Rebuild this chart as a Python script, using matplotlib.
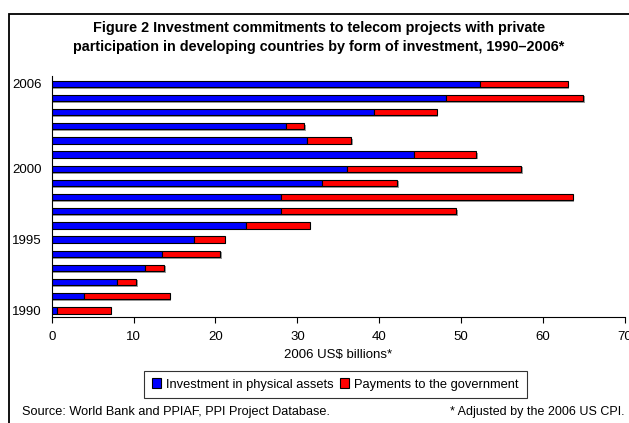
import matplotlib
matplotlib.use("Agg")
import matplotlib.pyplot as plt
import matplotlib.patheffects as pe
from matplotlib.patches import Rectangle, Patch

plt.rcParams["font.family"] = ["Liberation Sans", "DejaVu Sans"]

# Data (US$ billions, 2006 prices)
years = list(range(1990, 2007))
physical = [0.7, 3.9, 8.0, 11.4, 13.5, 17.4, 23.7, 28.0, 28.0, 33.0,
            36.1, 44.2, 31.2, 28.6, 39.4, 48.1, 52.3]
totals = [7.2, 14.4, 10.3, 13.7, 20.6, 21.1, 31.5, 49.4, 63.6, 42.2,
          57.3, 51.8, 36.6, 30.8, 47.0, 64.9, 63.0]
payments = [t - p for t, p in zip(totals, physical)]
ytick_years = [1990, 1995, 2000, 2006]

fig = plt.figure(figsize=(6.29, 4.23), dpi=100)
ax = fig.add_axes([0.0822, 0.2513, 0.9114, 0.569])

shadow = [pe.SimplePatchShadow(offset=(1.2, -1.2), shadow_rgbFace="0.45", alpha=0.7), pe.Normal()]
b1 = ax.barh(years, physical, height=0.45, color="#0000FF", edgecolor="black", linewidth=0.8,
             label="Investment in physical assets")
b2 = ax.barh(years, payments, left=physical, height=0.45, color="#FF0000", edgecolor="black",
             linewidth=0.8, label="Payments to the government")
for bar in list(b1) + list(b2):
    bar.set_path_effects(shadow)

ax.set_xlim(0, 70)
ax.set_ylim(1989.55, 2006.55)
ax.set_xticks(range(0, 71, 10))
ax.set_yticks(ytick_years)
ax.tick_params(axis="y", length=0, pad=7, labelsize=9.5)
ax.tick_params(axis="x", length=4, direction="out", labelsize=9.5, pad=6)
for s in ["top", "right"]:
    ax.spines[s].set_visible(False)
ax.spines["left"].set_linewidth(0.8)
ax.spines["bottom"].set_linewidth(0.8)
ax.set_xlabel("2006 US$ billions*", fontsize=9.5, labelpad=4.5)

fig.text(0.507, 0.911, "Figure 2 Investment commitments to telecom projects with private\n"
         "participation in developing countries by form of investment, 1990\u20132006*",
         ha="center", va="center", fontsize=10.4, fontweight="bold", linespacing=1.4)

handles = [Patch(facecolor="#0000FF", edgecolor="black", linewidth=0.8),
           Patch(facecolor="#FF0000", edgecolor="black", linewidth=0.8)]
leg = fig.legend(handles, ["Investment in physical assets", "Payments to the government"],
                 loc="center", bbox_to_anchor=(0.533, 0.091), ncol=2, fontsize=9.3,
                 frameon=True, fancybox=False, edgecolor="black", handlelength=0.7,
                 handleheight=0.7, handletextpad=0.4, columnspacing=0.5, borderpad=0.6)
leg.get_frame().set_linewidth(0.8)

fig.text(0.035, 0.026, "Source: World Bank and PPIAF, PPI Project Database.",
         ha="left", va="center", fontsize=9.2)
fig.text(0.993, 0.026, "* Adjusted by the 2006 US CPI.", ha="right", va="center", fontsize=9)

# outer frame (clipped at right and bottom)
fig.patches.append(Rectangle((8.5 / 629, -0.1), 1.0, 1.1 - 14 / 423, transform=fig.transFigure,
                             fill=False, edgecolor="black", linewidth=1.3))

fig.savefig("out.png", dpi=100)
